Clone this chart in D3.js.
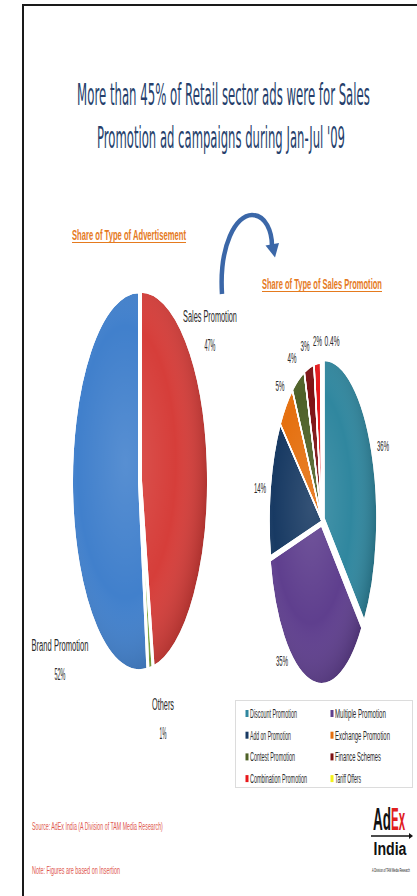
<!DOCTYPE html>
<html>
<head>
<meta charset="utf-8">
<script src="https://cdn.jsdelivr.net/npm/d3@7"></script>
<style>
html,body{margin:0;padding:0;background:#fff;}
svg{display:block;}
</style>
</head>
<body>
<svg id="chart" width="417" height="896"></svg>
<script>
// ---------- DATA ----------
const titleLines = ["More than 45% of Retail sector ads were for Sales", "Promotion ad campaigns during Jan-Jul '09"];
const leftTitle = "Share of Type of Advertisement";
const rightTitle = "Share of Type of Sales Promotion";

const adCategories = ["Sales Promotion", "Others", "Brand Promotion"];
const adValues = [47, 1, 52];
const adLabels = ["47%", "1%", "52%"];
const adColors = ["#d63e3a", "#7fae3c", "#4180cc"];

const promoCategories = ["Discount Promotion", "Multiple Promotion", "Add on Promotion", "Exchange Promotion",
  "Contest Promotion", "Finance Schemes", "Combination Promotion", "Tariff Offers"];
const promoValues = [36, 35, 14, 5, 4, 3, 2, 0.4];
const promoLabels = ["36%", "35%", "14%", "5%", "4%", "3%", "2%", "0.4%"];
const promoColors = ["#30879f", "#5f3f8e", "#183a63", "#e5700f", "#4e6127", "#7d1113", "#e8171b", "#f4f21a"];

const footnotes = ["Source: AdEx India (A Division of TAM Media Research)", "Note: Figures are based on Insertion"];

// ---------- HELPERS ----------
const svg = d3.select("#chart");
// text squeezed horizontally to a target width (the reference is a horizontally compressed picture)
function txt(parent, str, x, y, o) {
  const g = parent.append("g").attr("transform", `translate(${x},${y})`);
  const t = g.append("text")
    .attr("x", 0).attr("y", 0)
    .attr("text-anchor", o.anchor || "start")
    .attr("font-family", o.family || "'Liberation Sans',Arial,sans-serif")
    .attr("font-size", o.size || 12)
    .attr("font-weight", o.weight || "normal")
    .attr("fill", o.fill || "#333")
    .text(str);
  if (o.w) {
    const nat = t.node().getComputedTextLength();
    g.attr("transform", `translate(${x},${y}) scale(${o.w / nat},1)`);
  }
  return g;
}

// shading gradient for the pies (soft 3D look)
const defs = svg.append("defs");
const shade = defs.append("radialGradient").attr("id", "shade")
  .attr("gradientUnits", "userSpaceOnUse").attr("cx", -20).attr("cy", -10).attr("r", 120);
shade.append("stop").attr("offset", "0%").attr("stop-color", "#fff").attr("stop-opacity", 0.12);
shade.append("stop").attr("offset", "60%").attr("stop-color", "#fff").attr("stop-opacity", 0);
shade.append("stop").attr("offset", "100%").attr("stop-color", "#000").attr("stop-opacity", 0.18);

// frame
svg.append("line").attr("x1", 23).attr("y1", 5).attr("x2", 417).attr("y2", 5).attr("stroke", "#1a1a1a").attr("stroke-width", 2);
svg.append("line").attr("x1", 23).attr("y1", 4).attr("x2", 23).attr("y2", 896).attr("stroke", "#1a1a1a").attr("stroke-width", 2);

// title
const titleColor = "#263f6c";
txt(svg, titleLines[0], 223.5, 105, {anchor: "middle", size: 31, w: 293, fill: titleColor, family: "'DejaVu Sans',sans-serif"});
txt(svg, titleLines[1], 221, 148, {anchor: "middle", size: 31, w: 248, fill: titleColor, family: "'DejaVu Sans',sans-serif"});

// sub titles
const orange = "#e57a1e";
txt(svg, leftTitle, 72, 240, {size: 14, weight: "bold", w: 114, fill: orange});
svg.append("line").attr("x1", 72).attr("x2", 186).attr("y1", 242.5).attr("y2", 242.5).attr("stroke", orange).attr("stroke-width", 1.2);
txt(svg, rightTitle, 262, 289, {size: 14, weight: "bold", w: 120, fill: orange});
svg.append("line").attr("x1", 262).attr("x2", 382).attr("y1", 291.5).attr("y2", 291.5).attr("stroke", orange).attr("stroke-width", 1.2);

// arrow
const arrowColor = "#3b67a8";
svg.append("path").attr("d", "M222,294 C219,245 236,215 252,215 C266,215 272,232 272,246")
  .attr("fill", "none").attr("stroke", arrowColor).attr("stroke-width", 4.5);
svg.append("path").attr("d", "M265.5,245.5 L279,243 L275,257.5 Z").attr("fill", arrowColor);

// ---------- PIES ----------
const R = 100;
const pie = d3.pie().sort(null).value(d => d);
const arc = d3.arc().innerRadius(0).outerRadius(R);

function drawPie(cx, cy, rx, ry, values, colors, explode, sw) {
  const g = svg.append("g").attr("transform", `translate(${cx},${cy}) scale(${rx / R},${ry / R})`);
  const arcs = pie(values);
  const off = (d, i) => {
    const e = explode[i] || 0;
    const a = (d.startAngle + d.endAngle) / 2;
    return `translate(${e * Math.sin(a)},${-e * Math.cos(a)})`;
  };
  g.selectAll("path.slice").data(arcs).join("path").attr("class", "slice")
    .attr("d", arc)
    .attr("transform", off)
    .attr("fill", (d, i) => colors[i])
    .attr("stroke", "#fff")
    .attr("stroke-width", sw)
    .attr("vector-effect", "non-scaling-stroke");
  g.selectAll("path.shade").data(arcs).join("path").attr("class", "shade")
    .attr("d", arc)
    .attr("transform", off)
    .attr("fill", "url(#shade)")
    .attr("stroke", "#fff")
    .attr("stroke-width", sw)
    .attr("vector-effect", "non-scaling-stroke");
  return arcs;
}

const labelColor = "#2a2a2a";

// left pie
drawPie(140, 481, 67, 189, adValues, adColors, [1.5, 0, 1.5], 2);
const adLabelPos = {"Sales Promotion": [210, 322], "Brand Promotion": [60, 651], "Others": [163, 710]};
const adNameW = {"Sales Promotion": 54, "Brand Promotion": 57, "Others": 22};
const adPctW = {"47%": 11, "52%": 11, "1%": 7};
adCategories.forEach((c, i) => {
  const p = adLabelPos[c];
  txt(svg, c, p[0], p[1], {anchor: "middle", size: 17, w: adNameW[c], fill: labelColor});
  txt(svg, adLabels[i], p[0], p[1] + 28.5, {anchor: "middle", size: 17, w: adPctW[adLabels[i]], fill: labelColor});
});

// right pie
drawPie(322, 521, 53, 158, promoValues, promoColors, [4, 3, 0, 0, 0, 0, 0, 0], 1.5);
const promoLabelPos = [[383, 450.5], [282, 665.5], [260, 492.5], [280, 390.5], [292, 362.5], [305, 350.5], [317.5, 345.5], [332, 345.5]];
promoLabels.forEach((l, i) => {
  const w = l.length === 4 ? 15 : (l.length === 3 ? 12 : 9);
  txt(svg, l, promoLabelPos[i][0], promoLabelPos[i][1], {anchor: "middle", size: 15, w: w, fill: labelColor});
});

// legend
const lg = svg.append("g");
lg.append("rect").attr("x", 235.5).attr("y", 700.5).attr("width", 177).attr("height", 87)
  .attr("fill", "#fff").attr("stroke", "#dcdcdc");
const legendW = [47, 51, 41, 55, 45, 46, 57, 26];
promoCategories.forEach((c, i) => {
  const col = i % 2, row = Math.floor(i / 2);
  const x = col === 0 ? 250 : 335;
  const y = 718 + row * 21.7;
  lg.append("rect").attr("x", x - 4.5).attr("y", y - 8).attr("width", 3).attr("height", 7).attr("fill", promoColors[i]);
  txt(lg, c, x, y, {size: 12, w: legendW[i], fill: labelColor});
});

// footnotes
txt(svg, footnotes[0], 32, 829.5, {size: 11.5, w: 131, fill: "#e0584e"});
txt(svg, footnotes[1], 32, 873.5, {size: 11.5, w: 88, fill: "#e0584e"});

// logo
txt(svg, "Ad", 373, 830, {size: 32, weight: "bold", w: 18, fill: "#111"});
txt(svg, "Ex", 391, 830, {size: 32, weight: "bold", w: 14, fill: "#e0201e"});
svg.append("line").attr("x1", 371).attr("x2", 409).attr("y1", 836).attr("y2", 836).attr("stroke", "#111").attr("stroke-width", 1.5);
svg.append("path").attr("d", "M409,833 L413,836 L409,839 Z").attr("fill", "#111");
txt(svg, "India", 390, 855, {anchor: "middle", size: 19, weight: "bold", w: 33, fill: "#111"});
txt(svg, "A Division of TAM Media Research", 391, 872, {anchor: "middle", size: 5, w: 38, fill: "#111"});
</script>
</body>
</html>
